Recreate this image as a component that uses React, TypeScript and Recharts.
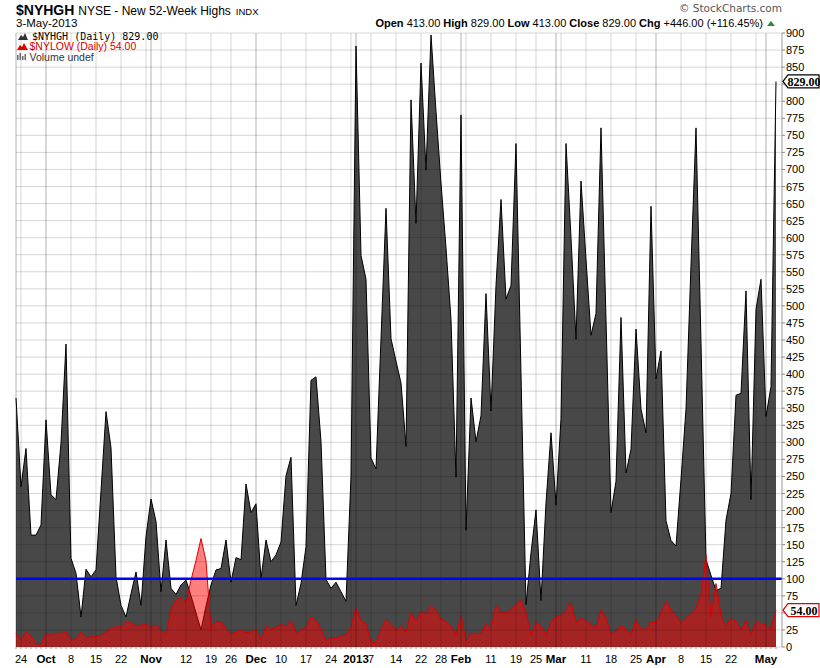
import React from "react";
import { ComposedChart, Area, XAxis, YAxis, ReferenceLine, ReferenceDot } from "recharts";

// trading days, 21-Sep-2012 .. 3-May-2013
const DATES = [
  "9/21", "9/24", "9/25", "9/26", "9/27", "9/28",
  "10/1", "10/2", "10/3", "10/4", "10/5", "10/8", "10/9", "10/10", "10/11", "10/12",
  "10/15", "10/16", "10/17", "10/18", "10/19", "10/22", "10/23", "10/24", "10/25", "10/26", "10/31",
  "11/1", "11/2", "11/5", "11/6", "11/7", "11/8", "11/9", "11/12", "11/13", "11/14", "11/15", "11/16",
  "11/19", "11/20", "11/21", "11/23", "11/26", "11/27", "11/28", "11/29", "11/30",
  "12/3", "12/4", "12/5", "12/6", "12/7", "12/10", "12/11", "12/12", "12/13", "12/14",
  "12/17", "12/18", "12/19", "12/20", "12/21", "12/24", "12/26", "12/27", "12/28", "12/31",
  "1/2", "1/3", "1/4", "1/7", "1/8", "1/9", "1/10", "1/11", "1/14", "1/15", "1/16", "1/17", "1/18",
  "1/22", "1/23", "1/24", "1/25", "1/28", "1/29", "1/30", "1/31",
  "2/1", "2/4", "2/5", "2/6", "2/7", "2/8", "2/11", "2/12", "2/13", "2/14", "2/15",
  "2/19", "2/20", "2/21", "2/22", "2/25", "2/26", "2/27", "2/28",
  "3/1", "3/4", "3/5", "3/6", "3/7", "3/8", "3/11", "3/12", "3/13", "3/14", "3/15",
  "3/18", "3/19", "3/20", "3/21", "3/22", "3/25", "3/26", "3/27", "3/28",
  "4/1", "4/2", "4/3", "4/4", "4/5", "4/8", "4/9", "4/10", "4/11", "4/12",
  "4/15", "4/16", "4/17", "4/18", "4/19", "4/22", "4/23", "4/24", "4/25", "4/26", "4/29", "4/30",
  "5/1", "5/2", "5/3",
];

const NYHGH = [
  365, 235, 291, 164, 164, 179,
  333, 223, 216, 299, 444, 130, 108, 44, 114, 103,
  113, 229, 345, 292, 103, 61, 44, 78, 110, 61, 162,
  217, 184, 81, 157, 86, 77, 91, 98, 75, 50, 25, 60,
  91, 113, 115, 157, 95, 131, 128, 239, 197,
  210, 100, 157, 125, 135, 154, 251, 278, 61, 93,
  147, 391, 396, 301, 99, 86, 95, 81, 67, 250,
  881, 574, 539, 277, 261, 452, 643, 452, 419, 387, 294, 802, 621,
  856, 699, 897, 785, 680, 585, 480, 249,
  780, 171, 365, 301, 339, 518, 346, 530, 656, 510, 530,
  738, 400, 62, 138, 201, 68, 211, 314,
  208, 335, 738, 600, 451, 683, 568, 457, 489, 761, 480,
  197, 243, 483, 255, 290, 466, 349, 314, 646,
  393, 434, 185, 156, 148, 246, 349, 560, 761, 445,
  128, 105, 83, 86, 186, 225, 369, 372, 522, 216, 495, 539,
  338, 382, 829,
];

const NYLOW = [
  20, 10, 22, 17, 5, 5,
  19, 17, 20, 20, 22, 10, 12, 22, 14, 15,
  15, 17, 22, 27, 30, 29, 37, 35, 31, 32, 34,
  28, 33, 25, 17, 54, 69, 72, 65, 98, 127, 159, 126,
  27, 37, 36, 27, 19, 22, 25, 21, 22,
  25, 10, 30, 26, 29, 33, 30, 39, 20, 25,
  29, 43, 39, 26, 9, 14, 12, 17, 17, 29,
  59, 38, 34, 7, 7, 25, 40, 34, 24, 32, 22, 50, 37,
  53, 48, 60, 54, 40, 37, 30, 17,
  46, 8, 20, 20, 20, 34, 28, 61, 50, 50, 55,
  62, 69, 50, 17, 36, 31, 17, 36,
  44, 46, 54, 65, 35, 42, 38, 33, 28, 54, 43,
  17, 24, 32, 25, 17, 40, 26, 26, 37,
  35, 50, 67, 55, 46, 34, 43, 50, 56, 78,
  135, 44, 93, 47, 29, 42, 37, 25, 39, 17, 38, 34,
  32, 27, 54,
];

// first trading day of each week / month, and what the axis prints there
const GRID_DATES = [
  "9/24", "10/1", "10/8", "10/15", "10/22", "10/31", "11/1", "11/5", "11/12", "11/19", "11/26",
  "12/3", "12/10", "12/17", "12/24", "12/31", "1/2", "1/7", "1/14", "1/22", "1/28",
  "2/1", "2/4", "2/11", "2/19", "2/25", "3/1", "3/4", "3/11", "3/18", "3/25",
  "4/1", "4/8", "4/15", "4/22", "4/29", "5/1",
];
const GRID_LABELS = [
  "24", "Oct", "8", "15", "22", "", "Nov", "", "12", "19", "26",
  "Dec", "10", "17", "24", "", "2013", "7", "14", "22", "28",
  "Feb", "", "11", "19", "25", "Mar", "", "11", "18", "25",
  "Apr", "8", "15", "22", "", "May",
];
const MONTH_LABELS = ["Oct", "Nov", "Dec", "2013", "Feb", "Mar", "Apr", "May"];

const Y_TICKS = [
  0, 25, 50, 75, 100, 125, 150, 175, 200, 225, 250, 275, 300, 325, 350, 375, 400, 425, 450,
  475, 500, 525, 550, 575, 600, 625, 650, 675, 700, 725, 750, 775, 800, 825, 850, 875, 900,
];
const LEVEL = 100;

const FONT = "'Liberation Sans', Arial, sans-serif";

const rows = DATES.map((d, i) => ({ i, date: d, high: NYHGH[i], low: NYLOW[i] }));
const lastIdx = DATES.length - 1;
const lastHigh = NYHGH[lastIdx];
const lastLow = NYLOW[lastIdx];
const dayIdx = DATES.map((_, i) => i);
const gridIdx = GRID_DATES.map((d) => DATES.indexOf(d));
const labelAt = new Map(gridIdx.map((k, j) => [k, GRID_LABELS[j]]));

function DayTick(props: any) {
  const { x, y, payload } = props;
  const label = labelAt.get(payload.value);
  if (!label) return <g />;
  const bold = MONTH_LABELS.includes(label);
  return (
    <text x={x} y={y + 12} textAnchor="middle" fontSize={bold ? 11.5 : 11} fontWeight={bold ? 700 : 400} fill="#000" fontFamily={FONT}>
      {label}
    </text>
  );
}

// the price tags sit on top of the axis labels they cover
function ValueTick(props: any) {
  const { x, y, payload } = props;
  const v = payload.value;
  if (Math.abs(v - lastHigh) < 12 || Math.abs(v - lastLow) < 12) return <g />;
  return (
    <text x={x} y={y + 4} textAnchor="start" fontSize={11} fill="#000" fontFamily={FONT}>
      {v}
    </text>
  );
}

function PriceTag(props: any, text: string, color: string) {
  const { cx, cy } = props;
  const x0 = 783;
  const w = 36;
  const h = 13;
  const pts = `${x0},${cy} ${x0 + 5},${cy - h / 2} ${x0 + w},${cy - h / 2} ${x0 + w},${cy + h / 2} ${x0 + 5},${cy + h / 2}`;
  return (
    <g>
      <polygon points={pts} fill="#fff" stroke={color} strokeWidth={1.2} />
      <text x={x0 + 6 + (w - 6) / 2} y={cy + 4.5} textAnchor="middle" fontSize={12} fontWeight={700} fill="#000" fontFamily="'Liberation Serif', serif">
        {text}
      </text>
    </g>
  );
}

function Overlay() {
  return (
    <svg width={820} height={668} style={{ position: "absolute", left: 0, top: 0, pointerEvents: "none" }}>
      <text x={16} y={15} fontFamily={FONT} fill="#000">
        <tspan fontSize={14} fontWeight={700}>$NYHGH</tspan>
        <tspan fontSize={12} dx={4}>NYSE - New 52-Week Highs</tspan>
        <tspan fontSize={9.5} dx={5}>INDX</tspan>
      </text>
      <text x={16} y={27} fontSize={11.5} fontFamily={FONT} fill="#000">3-May-2013</text>
      <text x={763} y={27} textAnchor="end" fontSize={11} fontFamily={FONT} fill="#000">
        <tspan fontWeight={700}>Open</tspan> 413.00 <tspan fontWeight={700}>High</tspan> 829.00{" "}
        <tspan fontWeight={700}>Low</tspan> 413.00 <tspan fontWeight={700}>Close</tspan> 829.00{" "}
        <tspan fontWeight={700}>Chg</tspan> +446.00 (+116.45%)
      </text>
      <polygon points="767,26 771,21 775,26" fill="#2e8b2e" />
      <text x={782} y={12} textAnchor="end" fontSize={10.5} fontFamily="'DejaVu Sans', sans-serif" fill="#555">© StockCharts.com</text>

      {/* legend */}
      <polygon points="18,40 21,35 23,37 25,33 28,40" fill="#333" />
      <text x={32} y={39.5} fontSize={10} fontFamily="'DejaVu Sans Mono', monospace" fill="#000">$NYHGH (Daily) 829.00</text>
      <polygon points="17,50 20,45 22,47 24,43 28,50" fill="#e00000" />
      <text x={29.5} y={50} fontSize={10.5} fontFamily={FONT} fill="#e00000">$NYLOW (Daily) 54.00</text>
      <rect x={17} y={55} width={1.5} height={5} fill="#666" />
      <rect x={19.5} y={53} width={1.5} height={7} fill="#666" />
      <rect x={22} y={56} width={1.5} height={4} fill="#666" />
      <rect x={24.5} y={54} width={1.5} height={6} fill="#666" />
      <text x={29.5} y={60.5} fontSize={10.5} fontFamily={FONT} fill="#333">Volume undef</text>
    </svg>
  );
}

export default function App() {
  return (
    <div style={{ position: "absolute", left: 0, top: 0, width: 820, height: 668, background: "#fff" }}>
      <ComposedChart width={820} height={668} data={rows} margin={{ top: 33, right: 0, bottom: 0, left: 16 }}>
        <XAxis
          type="number"
          dataKey="i"
          domain={[0, lastIdx]}
          ticks={dayIdx}
          interval={0}
          padding={{ left: 0, right: 6 }}
          height={21}
          tickSize={2}
          tickLine={{ stroke: "#999" }}
          axisLine={false}
          tick={<DayTick />}
        />
        <YAxis
          orientation="right"
          domain={[0, 900]}
          ticks={Y_TICKS}
          interval={0}
          width={38}
          tickSize={3}
          tickMargin={1}
          tickLine={{ stroke: "#888" }}
          axisLine={{ stroke: "#999" }}
          tick={<ValueTick />}
        />
        <Area
          type="linear"
          dataKey="high"
          stroke="#000"
          strokeWidth={1}
          fill="#484848"
          fillOpacity={1}
          dot={false}
          activeDot={false}
          isAnimationActive={false}
        />
        <Area
          type="linear"
          dataKey="low"
          stroke="#e00000"
          strokeWidth={1}
          fill="#ff0000"
          fillOpacity={0.5}
          dot={false}
          activeDot={false}
          isAnimationActive={false}
        />
        {Y_TICKS.map((v) => (
          <ReferenceLine key={`h${v}`} y={v} stroke="#000" strokeOpacity={0.16} strokeWidth={1} />
        ))}
        <ReferenceLine x={0} stroke="#000" strokeOpacity={0.3} />
        {gridIdx.map((k, j) => (
          <ReferenceLine
            key={`v${k}`}
            x={k}
            stroke="#000"
            strokeOpacity={MONTH_LABELS.includes(GRID_LABELS[j]) ? 0.3 : 0.16}
            strokeWidth={1}
          />
        ))}
        <ReferenceLine y={LEVEL} stroke="#0000ff" strokeWidth={2.5} />
        <ReferenceDot x={lastIdx} y={lastHigh} r={0} shape={(p: any) => PriceTag(p, lastHigh.toFixed(2), "#000")} />
        <ReferenceDot x={lastIdx} y={lastLow} r={0} shape={(p: any) => PriceTag(p, lastLow.toFixed(2), "#e00000")} />
      </ComposedChart>
      <Overlay />
    </div>
  );
}
